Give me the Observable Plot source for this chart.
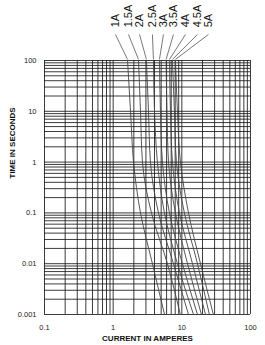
<!DOCTYPE html>
<html>
<head>
<meta charset="utf-8">
<script src="https://cdn.jsdelivr.net/npm/d3@7"></script>
<script src="https://cdn.jsdelivr.net/npm/@observablehq/plot@0.6"></script>
<style>
  html, body { margin: 0; padding: 0; background: #fff; }
</style>
</head>
<body>
<div id="chart"></div>
<script>
// Fuse ratings (labels)
const fuses = ["1A", "1.5A", "2A", "2.5A", "3A", "3.5A", "4A", "4.5A", "5A"];
// Times (s) at which the curves were read
const times = [100, 10, 1, 0.1, 0.01, 0.001];
// Current (A) for each fuse at the times above
const cur1A   = [1.62, 1.79, 1.98, 2.50, 3.73, 5.6];
const cur15A  = [2.34, 2.50, 2.67, 3.61, 6.17, 9.5];
const cur2A   = [3.05, 3.27, 3.49, 4.57, 7.55, 12.5];
const cur25A  = [3.86, 4.0, 4.41, 5.58, 8.63, 14.8];
const cur3A   = [4.72, 4.88, 5.22, 6.60, 10.2, 16.9];
const cur35A  = [5.9, 6.07, 6.4, 8.07, 12.1, 19.3];
const cur4A   = [6.6, 6.83, 7.3, 9.23, 14.3, 22.1];
const cur45A  = [7.3, 7.8, 8.34, 10.9, 16.9, 25.2];
const cur5A   = [8.07, 8.63, 9.54, 12.5, 18.7, 28.8];
const currents = [cur1A, cur15A, cur2A, cur25A, cur3A, cur35A, cur4A, cur45A, cur5A];
// Current (A) where each label's leader line starts
const labelCurrent = [1.08, 1.67, 2.42, 3.73, 5.4, 7.55, 11.3, 16.9, 24.4];

// Tick labels
const xTicks = [0.1, 1, 10, 100];
const xTickLabels = ["0.1", "1", "10", "100"];
const yTicks = [0.001, 0.01, 0.1, 1, 10, 100];
const yTickLabels = ["0.001", "0.01", "0.1", "1", "10", "100"];

// Grid: multiples 1..9 of each decade
const multipliers = [1, 2, 3, 4, 5, 6, 7, 8, 9];
const xDecades = [0.1, 1, 10];
const yDecades = [0.001, 0.01, 0.1, 1, 10];
const xGrid = xDecades.flatMap(d => multipliers.map(m => m * d)).concat([100]);
const yGrid = yDecades.flatMap(d => multipliers.map(m => m * d)).concat([100]);

const rows = fuses.flatMap((f, i) => times.map((t, j) => ({fuse: f, a: currents[i][j], t})));
const labelRows = fuses.map((f, i) => ({fuse: f, lx: labelCurrent[i], cx: currents[i][0]}));

const chart = Plot.plot({
  width: 265,
  height: 345,
  marginTop: 60,
  marginBottom: 31,
  marginLeft: 44,
  marginRight: 15,
  style: {fontFamily: "'Liberation Sans', Arial, sans-serif", background: "#fff", overflow: "visible"},
  x: {type: "log", domain: [0.1, 100]},
  y: {type: "log", domain: [0.001, 100]},
  marks: [
    Plot.ruleX(xGrid, {x: d => d, stroke: "#1a1a1a", strokeWidth: 1, strokeOpacity: 0.85}),
    Plot.ruleY(yGrid, {y: d => d, stroke: "#1a1a1a", strokeWidth: 1, strokeOpacity: 0.85}),
    Plot.line(rows, {x: "a", y: "t", z: "fuse", curve: "monotone-y", stroke: "#444", strokeWidth: 0.9}),
    Plot.link(labelRows, {x1: "lx", y1: () => 325, x2: "cx", y2: () => 105, stroke: "#555", strokeWidth: 0.8}),
    Plot.text(labelRows, {x: "lx", y: () => 450, text: "fuse", rotate: -90, textAnchor: "start", fontSize: 11, fill: "#111"}),
    Plot.axisX(xTicks, {tickSize: 0, tickPadding: 10, fontSize: 7.5, fill: "#222", tickFormat: (d) => xTickLabels[xTicks.indexOf(d)], label: null}),
    Plot.axisY(yTicks, {tickSize: 0, tickPadding: 8, fontSize: 7.5, fill: "#222", tickFormat: (d) => yTickLabels[yTicks.indexOf(d)], label: null}),
    Plot.text(["CURRENT IN AMPERES"], {frameAnchor: "bottom", dy: 26, fontSize: 8, fontWeight: "bold", fill: "#111"}),
    Plot.text(["TIME IN SECONDS"], {frameAnchor: "left", dx: -32, dy: -9, rotate: -90, fontSize: 8, fontWeight: "bold", fill: "#111"})
  ]
});
document.getElementById("chart").appendChild(chart);
</script>
</body>
</html>
